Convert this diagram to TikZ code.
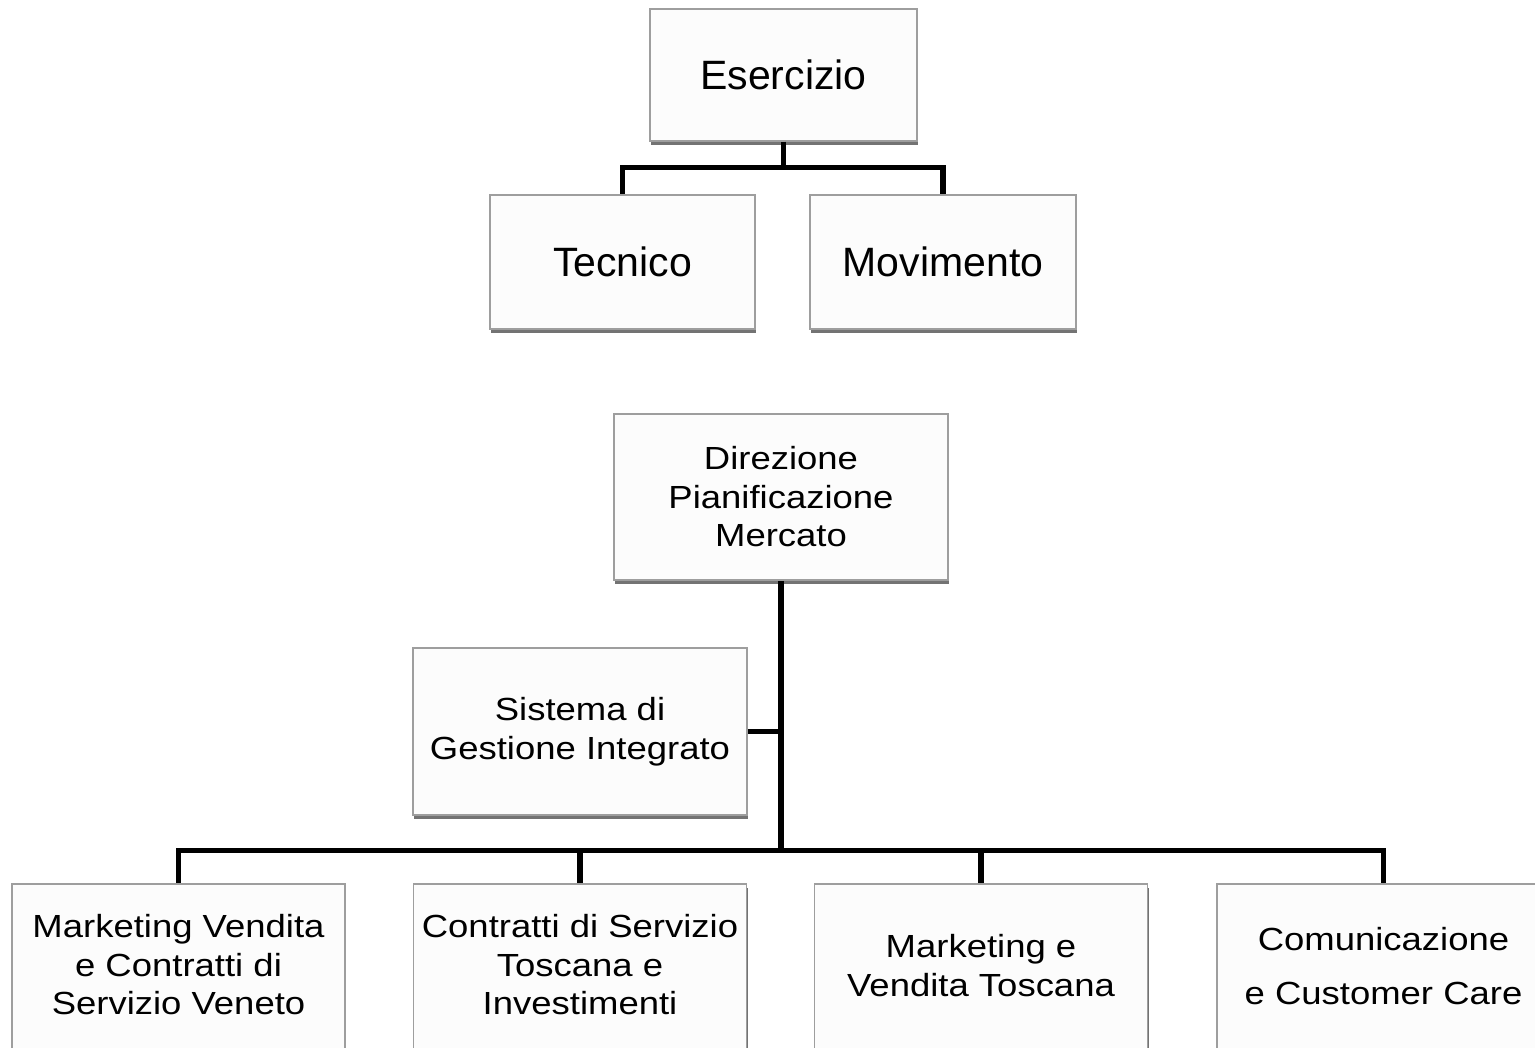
\documentclass[tikz,border=0pt]{standalone}
\usepackage{fontspec}
\setmainfont{Liberation Sans}
\newfontfamily\widefont[FakeStretch=1.14]{Liberation Sans}
\usetikzlibrary{shadows}
\begin{document}
\begin{tikzpicture}[x=0.5pt,y=-0.5pt,
  box/.style={rectangle, draw=black!38, line width=0.75pt, fill=black!1, inner sep=0pt, align=center,
    drop shadow={shadow xshift=0.5pt, shadow yshift=-2pt, fill=black!55, opacity=1}},
  topbox/.style={box, font=\fontsize{20.5}{24}\selectfont},
  midbox/.style={box, font=\widefont\fontsize{16}{19.25}\selectfont},
  lbl/.style={align=center, inner sep=0pt, font=\widefont\fontsize{16}{19.25}\selectfont},
  conn/.style={draw=black, line width=2.6pt}]
\useasboundingbox (0,0) rectangle (1535,1048);
\clip (0,0) rectangle (1535,1048);

% top group
\node[topbox, minimum width=133.5pt, minimum height=66pt] (E) at (783.5,75) {Esercizio};
\node[topbox, minimum width=132.5pt, minimum height=67pt] (T) at (622.5,262) {Tecnico};
\node[topbox, minimum width=133pt, minimum height=67pt] (M) at (943,262) {Movimento};

\path (E.south) ++(0,26) coordinate (j1);
\draw[conn] (E.south) -- (j1);
\draw[conn] (j1) -| (T.north);
\draw[conn] (j1) -| (M.north);

% second group
\node[midbox, minimum width=167pt, minimum height=83pt] (D) at (781,497) {Direzione\\Pianificazione\\Mercato};
\node[midbox, minimum width=167pt, minimum height=83.5pt] (S) at (580,731.5) {Sistema di\\Gestione Integrato};

\node[box, minimum width=166.5pt, minimum height=90pt] (b1) at (178.5,974) {};
\node[box, minimum width=166.5pt, minimum height=90pt] (b2) at (580,974) {};
\node[box, minimum width=166.5pt, minimum height=90pt] (b3) at (981,974) {};
\node[box, minimum width=166.5pt, minimum height=90pt] (b4) at (1383.5,974) {};

\node[lbl] (l1) at (178.5,965) {Marketing Vendita\\e Contratti di\\Servizio Veneto};
\node[lbl] (l2) at (580,965) {Contratti di Servizio\\Toscana e\\Investimenti};
\node[lbl] (l3) at (981,965.5) {Marketing e\\Vendita Toscana};
\node[lbl] (l4) at (1383.5,966) {Comunicazione\\[7.5pt]e Customer Care};

\path (D.south) ++(0,270) coordinate (j2);
\draw[conn] (D.south) -- (j2);
\draw[conn] (S.east) -- (S.east -| j2);
\draw[conn] (j2) -| (b1.north);
\draw[conn] (j2) -| (b2.north);
\draw[conn] (j2) -| (b3.north);
\draw[conn] (j2) -| (b4.north);
\end{tikzpicture}
\end{document}
